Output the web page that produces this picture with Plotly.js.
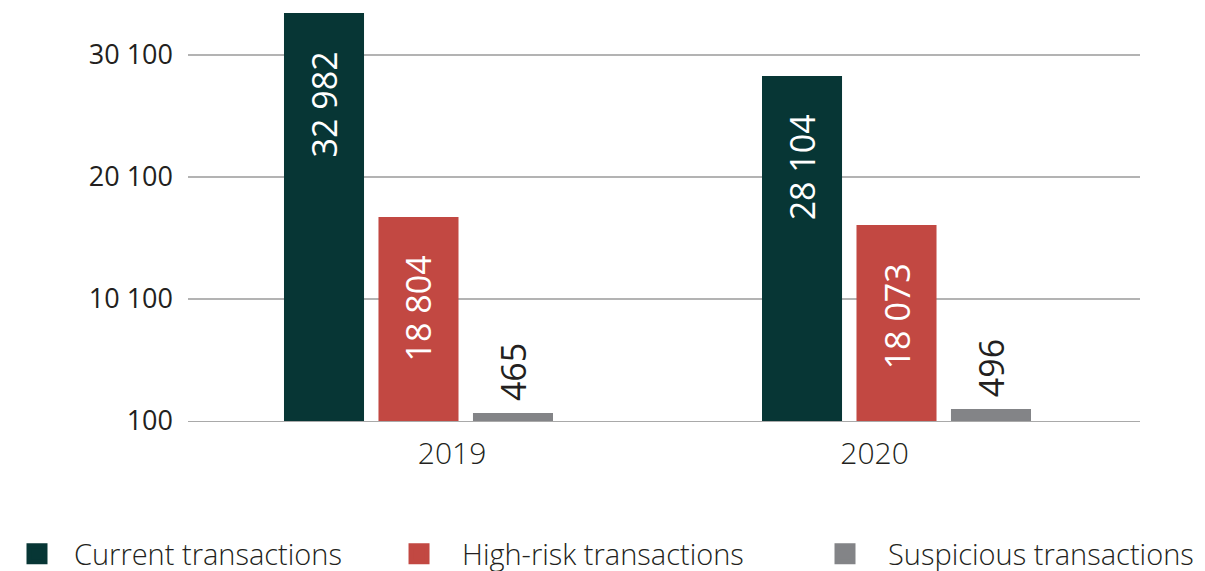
<!DOCTYPE html>
<html><head><meta charset="utf-8">
<script src="https://cdn.plot.ly/plotly-3.0.1.min.js"></script>
<style>html,body{margin:0;padding:0;background:#fff}#chart{width:1205px;height:571px}</style>
</head><body><div id="chart"></div>
<script>
// ---- data ----
const categories = ['2019', '2020'];
const seriesNames = ['Current transactions', 'High-risk transactions', 'Suspicious transactions'];
// bar heights as drawn in the picture (axis units)
const currentBars = [33540, 28380];
const highRiskBars = [16820, 16170];
const suspiciousBars = [760, 1080];
// values printed on the bars
const currentLabels = [32982, 28104];
const highRiskLabels = [18804, 18073];
const suspiciousLabels = [465, 496];
// y-axis ticks
const yTickVals = [100, 10100, 20100, 30100];

const colors = ['#073635', '#C24842', '#838487'];
const textDark = '#231f20';
const FONT = 'Open Sans, sans-serif';
const NB = '\u00a0';

function barTrace(values, labels, color, inside) {
  return {
    type: 'bar', x: categories, y: values, text: labels,
    texttemplate: inside ? '%{text:,.0f}' + NB + NB + NB + NB : NB + '%{text:,.0f}',
    textposition: inside ? 'inside' : 'outside',
    insidetextanchor: 'end',
    textangle: -90,
    constraintext: 'none',
    cliponaxis: false,
    textfont: {family: FONT, size: 34, color: inside ? '#ffffff' : textDark, weight: 400},
    marker: {color: color, line: {width: 0}},
    hoverinfo: 'skip', showlegend: false
  };
}
// legend entries (no marks of their own); they sit on the label axis x2
function legendTrace(name, color, legendId) {
  return {
    type: 'scatter', mode: 'markers', x: [null], y: [null], name: name,
    xaxis: 'x2', yaxis: 'y', legend: legendId,
    marker: {symbol: 'square', size: 16, color: color, line: {width: 5, color: color}},
    hoverinfo: 'skip', showlegend: true
  };
}

const data = [
  barTrace(currentBars, currentLabels, colors[0], true),
  barTrace(highRiskBars, highRiskLabels, colors[1], true),
  barTrace(suspiciousBars, suspiciousLabels, colors[2], false),
  legendTrace(seriesNames[0], colors[0], 'legend'),
  legendTrace(seriesNames[1], colors[1], 'legend2'),
  legendTrace(seriesNames[2], colors[2], 'legend3')
];

function legendBox(xPos, itemW, entryW) {
  return {
    orientation: 'h', xref: 'paper', yref: 'container', x: xPos, y: 0.03,
    xanchor: 'left', yanchor: 'middle', itemwidth: itemW, itemsizing: 'trace',
    entrywidth: entryW, entrywidthmode: 'pixels',
    font: {family: FONT, size: 29, color: textDark, weight: 300},
    bgcolor: 'rgba(0,0,0,0)', borderwidth: 0
  };
}

const layout = {
  width: 1205, height: 571,
  margin: {l: 188, r: 65, t: 10, b: 150},
  paper_bgcolor: '#ffffff', plot_bgcolor: '#ffffff',
  separators: '. ',
  barmode: 'group', bargap: 0.407, bargroupgap: 0.153,
  font: {family: FONT, color: textDark},
  xaxis: {
    type: 'category', range: [-0.4822, 1.5094], showticklabels: false,
    showgrid: false, zeroline: false, showline: true, linecolor: '#a9a9a9', linewidth: 1.3,
    ticks: '', fixedrange: true
  },
  xaxis2: {
    overlaying: 'x', anchor: 'y', side: 'bottom', type: 'linear',
    range: [-0.6249, 1.6284], tickmode: 'array', tickvals: [0, 1], ticktext: categories,
    showgrid: false, zeroline: false, showline: false, ticks: '',
    ticklabelstandoff: 12,
    tickfont: {family: FONT, size: 30, color: textDark, weight: 300}, fixedrange: true
  },
  yaxis: {
    range: [100, 33789], tickmode: 'array', tickvals: yTickVals, tickformat: ',d',
    showgrid: true, gridcolor: '#b3b3b3', gridwidth: 1.3, zeroline: false, showline: false,
    ticks: '', ticklabelstandoff: 14,
    tickfont: {family: FONT, size: 27, color: textDark, weight: 400}, fixedrange: true
  },
  showlegend: true,
  legend: legendBox(-0.1975, 64, 300),
  legend2: legendBox(0.1975, 76, 310),
  legend3: legendBox(0.6471, 76, 312)
};

Plotly.newPlot('chart', data, layout, {displayModeBar: false, staticPlot: true});
</script>
</body></html>
